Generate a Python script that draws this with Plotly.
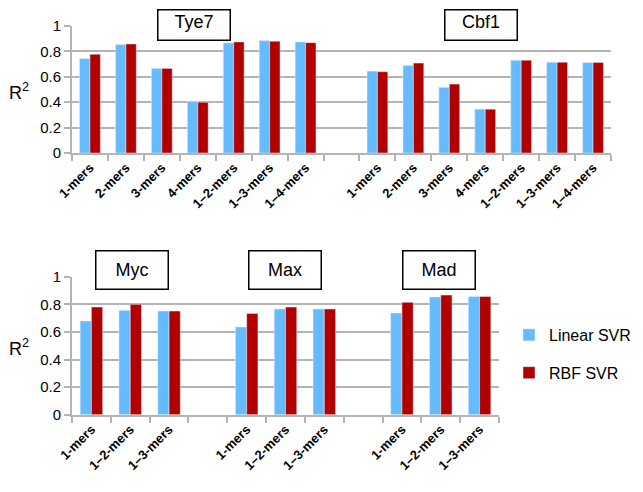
import plotly.graph_objects as go

# top panel: Tye7 and Cbf1
top_labels = ["1-mers", "2-mers", "3-mers", "4-mers", "1–2-mers", "1–3-mers", "1–4-mers"]
tye7_linear = [0.744, 0.854, 0.666, 0.405, 0.867, 0.885, 0.875]
tye7_rbf = [0.778, 0.859, 0.666, 0.400, 0.875, 0.880, 0.869]
cbf1_linear = [0.645, 0.689, 0.517, 0.345, 0.731, 0.715, 0.713]
cbf1_rbf = [0.640, 0.708, 0.543, 0.345, 0.731, 0.715, 0.713]

# bottom panel: Myc, Max, Mad
bottom_labels = ["1-mers", "1–2-mers", "1–3-mers"]
myc_linear = [0.679, 0.756, 0.751]
myc_rbf = [0.780, 0.800, 0.751]
max_linear = [0.635, 0.766, 0.766]
max_rbf = [0.734, 0.780, 0.766]
mad_linear = [0.737, 0.853, 0.857]
mad_rbf = [0.814, 0.867, 0.857]

BLUE = "#66bbff"
RED = "#b00000"
GRID = "#b4b4b4"
FONT = "Liberation Sans, Arial, sans-serif"
# page body adds an 8px margin, so the figure is drawn a bit smaller
OFF = 8
W, H = 643 - OFF, 492 - OFF


def px(x):
    return (x - OFF) / W


def py(y):
    return 1 - (y - OFF) / H


def positions(groups):
    # each group of categories followed by one empty slot
    xs, labels, start = [], [], 0
    for g in groups:
        xs += [start + i for i in range(len(g))]
        labels += g
        start += len(g) + 1
    return xs, labels, start - 1


top_x, top_text, top_n = positions([top_labels, top_labels])
bot_x, bot_text, bot_n = positions([bottom_labels] * 3)

fig = go.Figure()
fig.add_trace(go.Bar(x=top_x, y=tye7_linear + cbf1_linear, marker_color=BLUE,
                     name="Linear SVR", legendgroup="a", xaxis="x", yaxis="y"))
fig.add_trace(go.Bar(x=top_x, y=tye7_rbf + cbf1_rbf, marker_color=RED,
                     name="RBF SVR", legendgroup="b", xaxis="x", yaxis="y"))
fig.add_trace(go.Bar(x=bot_x, y=myc_linear + max_linear + mad_linear, marker_color=BLUE,
                     name="Linear SVR", showlegend=False, xaxis="x2", yaxis="y2"))
fig.add_trace(go.Bar(x=bot_x, y=myc_rbf + max_rbf + mad_rbf, marker_color=RED,
                     name="RBF SVR", showlegend=False, xaxis="x2", yaxis="y2"))


def xaxis(domain, anchor, xs, text, n):
    return dict(domain=domain, anchor=anchor, range=[-0.5, n - 0.5], automargin=False,
                tickvals=xs, ticktext=text, tickangle=-45, ticks="",
                tickfont=dict(family=FONT, size=13, color="black", weight="bold"),
                showline=True, linecolor=GRID, linewidth=2, showgrid=False, zeroline=False,
                minor=dict(tickvals=[i - 0.5 for i in range(n + 1)], ticks="outside",
                           ticklen=6, tickcolor=GRID, tickwidth=2, showgrid=False))


def yaxis(domain, anchor):
    return dict(domain=domain, anchor=anchor, range=[0, 1], automargin=False,
                tickvals=[0, 0.2, 0.4, 0.6, 0.8, 1], ticktext=["0", "0.2", "0.4", "0.6", "0.8", "1"],
                ticks="outside", ticklen=6, tickcolor=GRID, tickwidth=2,
                tickfont=dict(family=FONT, size=15, color="black"),
                showline=True, linecolor=GRID, linewidth=2,
                showgrid=True, gridcolor=GRID, gridwidth=2, zeroline=False)


fig.update_layout(
    width=W, height=H,
    margin=dict(l=0, r=0, t=0, b=0, autoexpand=False),
    paper_bgcolor="white", plot_bgcolor="white",
    barmode="group", bargap=0.42, bargroupgap=0,
    xaxis=xaxis([px(72), px(611)], "y", top_x, top_text, top_n),
    yaxis=yaxis([py(153), py(26)], "x"),
    xaxis2=xaxis([px(72), px(499)], "y2", bot_x, bot_text, bot_n),
    yaxis2=yaxis([py(414.7), py(276.7)], "x2"),
    legend=dict(x=px(509), y=py(354), xanchor="left", yanchor="middle",
                font=dict(family=FONT, size=16, color="black"),
                tracegroupgap=14, bgcolor="rgba(0,0,0,0)"),
    showlegend=True,
)

# panel titles in boxes (top row kept below the page edge)
titles = [("Tye7", 193.5, 25, 27), ("Cbf1", 480.5, 25, 27), ("Myc", 132, 270, 35),
          ("Max", 284.5, 270, 35), ("Mad", 439, 270, 35)]
for t, cx, cy, h in titles:
    fig.add_annotation(text=t, x=px(cx), y=py(cy), xref="paper", yref="paper",
                       xanchor="center", yanchor="middle", valign="top" if h < 30 else "middle",
                       showarrow=False, width=69, height=h, borderpad=1,
                       bordercolor="black", borderwidth=1.5, bgcolor="white",
                       font=dict(family=FONT, size=18, color="black"))

for cy in [92, 347]:
    fig.add_annotation(text="R<sup>2</sup>", x=px(19), y=py(cy), xref="paper", yref="paper",
                       xanchor="center", yanchor="middle",
                       showarrow=False, font=dict(family=FONT, size=18, color="black"))

fig.write_html("out.html")
